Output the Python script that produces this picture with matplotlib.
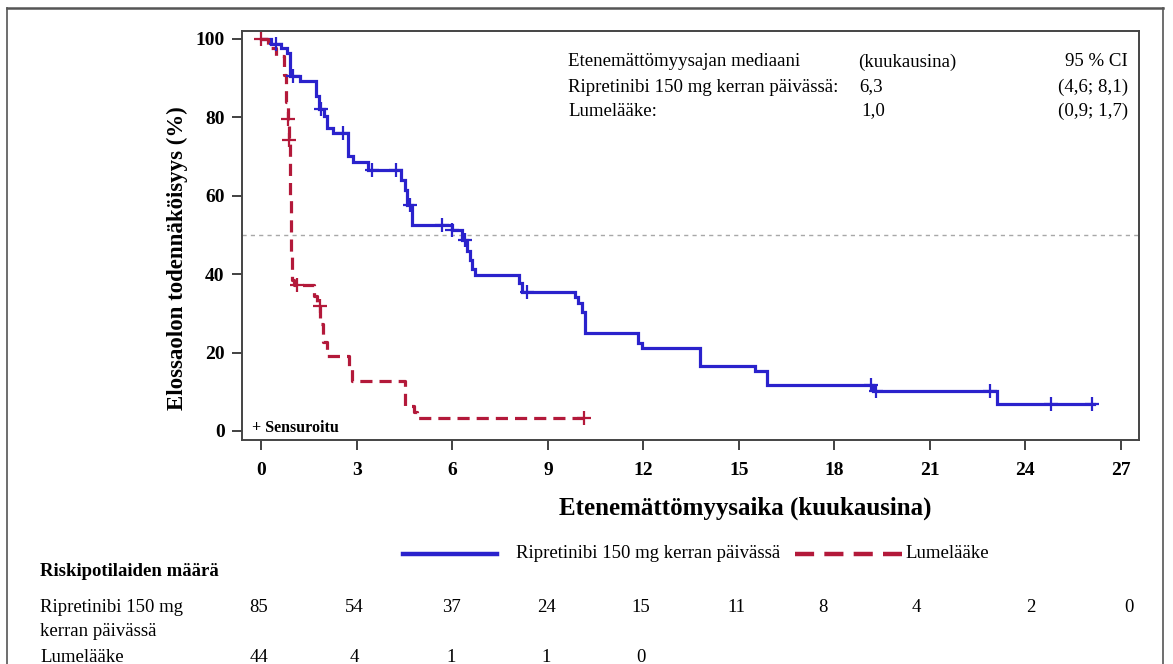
import matplotlib
matplotlib.use("Agg")
import matplotlib.pyplot as plt
from matplotlib.lines import Line2D
from matplotlib.transforms import blended_transform_factory, offset_copy

plt.rcParams['font.family'] = ['Liberation Serif', 'DejaVu Serif']

# ---------------- data ----------------
blue_t = [0, 0.30, 0.63, 0.80, 0.90, 1.20, 1.72, 1.80, 1.96, 2.05, 2.25, 2.73, 2.88, 3.35,
          4.40, 4.50, 4.56, 4.73, 5.99, 6.30, 6.45, 6.55, 6.62, 6.72, 8.10, 8.20, 9.85, 9.96,
          10.07, 10.16, 11.83, 11.96, 13.77, 15.50, 15.88, 19.22, 23.10, 26.15]
blue_s = [100, 98.8, 97.6, 96.4, 90.5, 89.3, 85.4, 82.0, 80.2, 77.2, 76.0, 70.2, 68.7, 66.6,
          64.0, 61.5, 57.6, 52.5, 51.3, 48.7, 46.0, 43.5, 41.2, 39.8, 37.7, 35.5, 34.2, 32.6,
          30.4, 24.9, 22.5, 21.1, 16.6, 15.2, 11.8, 10.3, 7.0, 7.0]
blue_cens_t = [0.45, 1.00, 1.86, 2.56, 3.46, 4.24, 4.66, 5.67, 6.00, 6.40, 8.33, 19.15, 19.30, 22.90, 24.80, 26.10]
blue_cens_s = [98.8, 90.5, 82.0, 76.0, 66.6, 66.6, 57.6, 52.5, 51.3, 48.7, 35.5, 11.8, 10.3, 10.3, 7.0, 7.0]

red_t = [0, 0.20, 0.45, 0.72, 0.78, 0.84, 0.87, 0.90, 0.93, 0.97, 1.02, 1.64, 1.75, 1.85, 1.95,
         2.06, 2.74, 2.85, 4.52, 4.78, 4.88, 10.12]
red_s = [100, 97.7, 95.5, 90.9, 84.0, 79.5, 74.2, 60.0, 45.0, 38.6, 37.2, 34.5, 31.8, 27.3, 22.7,
         19.0, 15.9, 12.8, 6.4, 4.8, 3.2, 3.2]
red_cens_t = [0.0, 0.84, 0.87, 1.11, 1.83, 10.12]
red_cens_s = [100, 79.5, 74.2, 37.2, 31.8, 3.2]

x_ticks = [0, 3, 6, 9, 12, 15, 18, 21, 24, 27]
y_ticks = [0, 20, 40, 60, 80, 100]

risk_times = [0, 3, 6, 9, 12, 15, 18, 21, 24, 27]
risk_ripre = [85, 54, 37, 24, 15, 11, 8, 4, 2, 0]
risk_plac = [44, 4, 1, 1, 0]

label_ripre = "Ripretinibi 150 mg kerran päivässä"
label_plac = "Lumelääke"

BLUE = '#2a22cc'
RED = '#b3193a'

# layout: small horizontal nudges (points) of the risk-table columns
col_nudge = [-2, -2, -1, -1, -2, -2, -8, -10, 4, 6]

# ---------------- figure ----------------
W, H = 1173, 664
fig = plt.figure(figsize=(W / 100, H / 100), dpi=100)


def fx(px):
    return px / W


def fy(py):
    return 1 - py / H


ax_l, ax_r, ax_t, ax_b = 242, 1139, 31, 440
ax = fig.add_axes([fx(ax_l), fy(ax_b), (ax_r - ax_l) / W, (ax_b - ax_t) / H])

ax.plot(blue_t, blue_s, drawstyle='steps-post', color=BLUE, lw=2.3, solid_joinstyle='miter')
ax.plot(red_t, red_s, drawstyle='steps-post', color=RED, lw=2.3, dashes=(3.8, 2.2))
ax.plot(blue_cens_t, blue_cens_s, ls='none', marker='+', ms=10, mew=1.6, color=BLUE)
ax.plot(red_cens_t, red_cens_s, ls='none', marker='+', ms=10, mew=1.6, color=RED)

ax.axhline(50, color='#a8a8a8', lw=1.0, dashes=(3, 3), zorder=0)

ax.set_xlim(-0.61, 27.57)
ax.set_ylim(-2.3, 102.0)
ax.set_xticks(x_ticks)
ax.set_yticks(y_ticks)
for lab in ax.get_xticklabels() + ax.get_yticklabels():
    lab.set_fontweight('bold')
    lab.set_fontsize(14)
ax.tick_params(direction='out', length=7.5, width=1.3, color='#333333')
ax.tick_params(axis='x', pad=8.5)
ax.tick_params(axis='y', pad=5)
for sp in ax.spines.values():
    sp.set_color('#444444')
    sp.set_linewidth(1.4)

# inner median table
fs_in = 13.6
fig.text(fx(568), fy(62), "Etenemättömyysajan mediaani", fontsize=fs_in, va='center')
fig.text(fx(858), fy(62), "(kuukausina)", fontsize=fs_in, va='center')
fig.text(fx(1128), fy(62), "95 % CI", fontsize=fs_in, va='center', ha='right')
fig.text(fx(568), fy(87), label_ripre + ":", fontsize=fs_in, va='center')
fig.text(fx(859), fy(87), "6,3", fontsize=fs_in, va='center')
fig.text(fx(1128), fy(87), "(4,6; 8,1)", fontsize=fs_in, va='center', ha='right')
fig.text(fx(568), fy(111), "Lumelääke:", fontsize=fs_in, va='center')
fig.text(fx(861), fy(111), "1,0", fontsize=fs_in, va='center')
fig.text(fx(1128), fy(111), "(0,9; 1,7)", fontsize=fs_in, va='center', ha='right')

fig.text(fx(252), fy(428), "+ Sensuroitu", fontsize=11.5, fontweight='bold', va='center')

# axis labels
fig.text(fx(745), fy(508), "Etenemättömyysaika (kuukausina)", fontsize=18, fontweight='bold',
         ha='center', va='center')
fig.text(fx(177), fy(258), "Elossaolon todennäköisyys (%)", fontsize=16.5, fontweight='bold',
         ha='center', va='center', rotation=90)

# legend below
fs_t = 13.5
fig.add_artist(Line2D([fx(403), fx(497)], [fy(554), fy(554)], color=BLUE, lw=3.2))
fig.text(fx(516), fy(554), label_ripre, fontsize=fs_t, va='center')
fig.add_artist(Line2D([fx(795), fx(902)], [fy(554), fy(554)], color=RED, lw=3.2,
                      dashes=(4.3, 2.3), solid_capstyle='butt', dash_capstyle='butt'))
fig.text(fx(905), fy(554), label_plac, fontsize=fs_t, va='center')

# risk table
fig.text(fx(40), fy(571), "Riskipotilaiden määrä", fontsize=fs_t, fontweight='bold', va='center')
fig.text(fx(40), fy(608), "Ripretinibi 150 mg", fontsize=fs_t, va='center')
fig.text(fx(40), fy(632), "kerran päivässä", fontsize=fs_t, va='center')
fig.text(fx(40), fy(657), label_plac, fontsize=fs_t, va='center')
tr = blended_transform_factory(ax.transData, fig.transFigure)
for i, (t, n) in enumerate(zip(risk_times, risk_ripre)):
    tt = offset_copy(tr, fig=fig, x=col_nudge[i], y=0, units='points')
    fig.text(t, fy(608), str(n), transform=tt, fontsize=fs_t, ha='center', va='center')
for i, (t, n) in enumerate(zip(risk_times, risk_plac)):
    tt = offset_copy(tr, fig=fig, x=col_nudge[i], y=0, units='points')
    fig.text(t, fy(657), str(n), transform=tt, fontsize=fs_t, ha='center', va='center')

# outer frame
fc = '#555555'
fig.add_artist(Line2D([fx(7), fx(1163)], [fy(8), fy(8)], color=fc, lw=1.8))
fig.add_artist(Line2D([fx(7), fx(7)], [fy(8), 0], color=fc, lw=1.2))
fig.add_artist(Line2D([fx(1163), fx(1163)], [fy(8), 0], color=fc, lw=1.2))

fig.savefig("out.png", dpi=100)
